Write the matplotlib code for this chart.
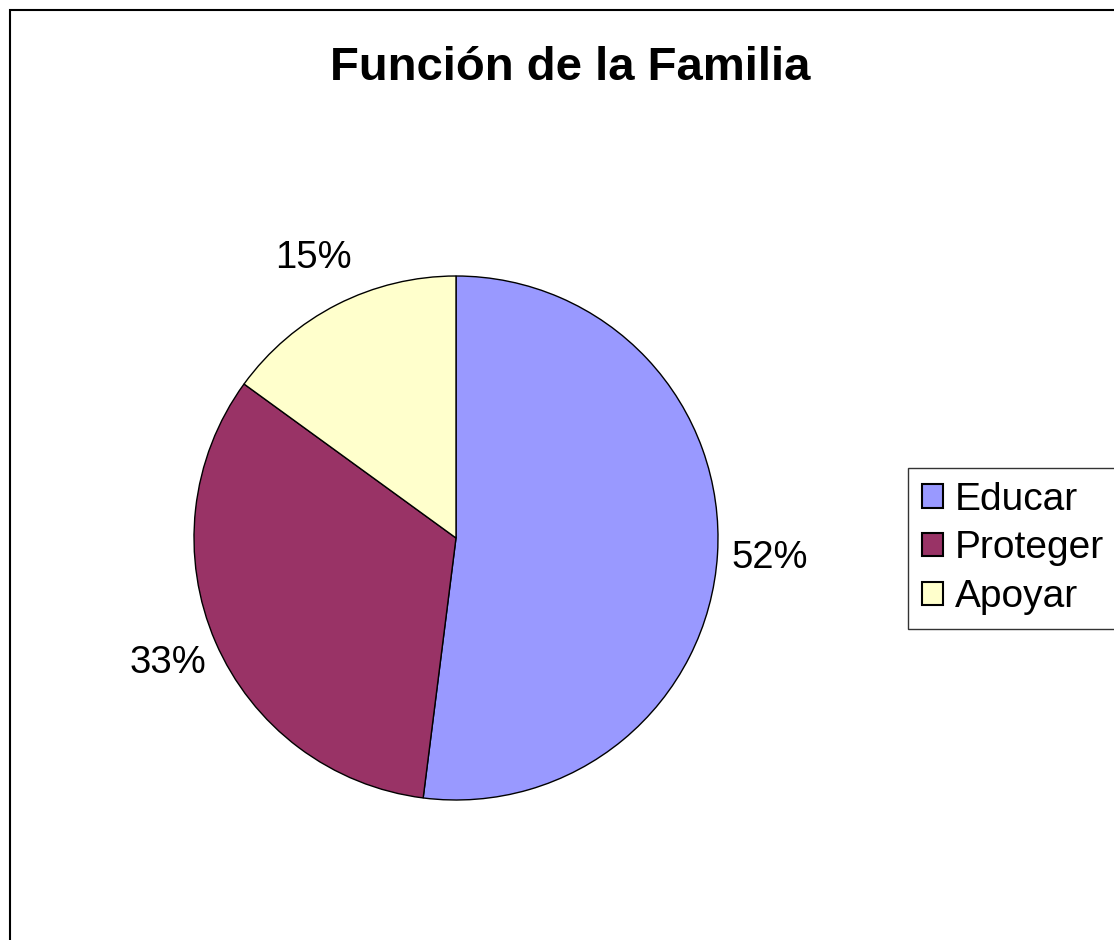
import matplotlib.pyplot as plt
from matplotlib.patches import Rectangle

plt.rcParams['font.family'] = ['Liberation Sans', 'DejaVu Sans']

categorias = ['Educar', 'Proteger', 'Apoyar']
porcentajes = [52, 33, 15]
colores = ['#9999FF', '#993366', '#FFFFCC']

fig = plt.figure(figsize=(11.14, 9.4), dpi=100)

# marco del grafico
fig.patches.append(Rectangle((9.5 / 1114, -0.1), 2, (940 - 10.5) / 940 + 0.1,
                             transform=fig.transFigure, fill=False,
                             edgecolor='black', linewidth=1.5))

ax = fig.add_axes([(456 - 262) / 1114, (940 - 538 - 262) / 940, 524 / 1114, 524 / 940])
wedges, textos, autotextos = ax.pie(
    porcentajes, colors=colores, startangle=90, counterclock=False,
    autopct='%1.0f%%', pctdistance=1.2,
    wedgeprops={'edgecolor': 'black', 'linewidth': 1.0},
    textprops={'fontsize': 27.5, 'color': 'black'})
ax.set_xlim(-1, 1)
ax.set_ylim(-1, 1)
ax.set_aspect('equal')

fig.text(570 / 1114, 1 - 68 / 940, 'Función de la Familia', fontsize=34,
         fontweight='bold', ha='center', va='center')

leg = fig.legend(wedges, categorias, loc='upper left',
                 bbox_to_anchor=(908 / 1114, 1 - 468 / 940),
                 fontsize=28, frameon=True, fancybox=False, shadow=False,
                 handlelength=0.55, handleheight=0.55, handletextpad=0.3,
                 borderpad=0.35, labelspacing=0.33, borderaxespad=0)
leg.get_frame().set_edgecolor('black')
leg.get_frame().set_linewidth(1.0)
for h in leg.legend_handles:
    h.set_edgecolor('black')
    h.set_linewidth(1.5)

fig.savefig('out.png', dpi=100)
